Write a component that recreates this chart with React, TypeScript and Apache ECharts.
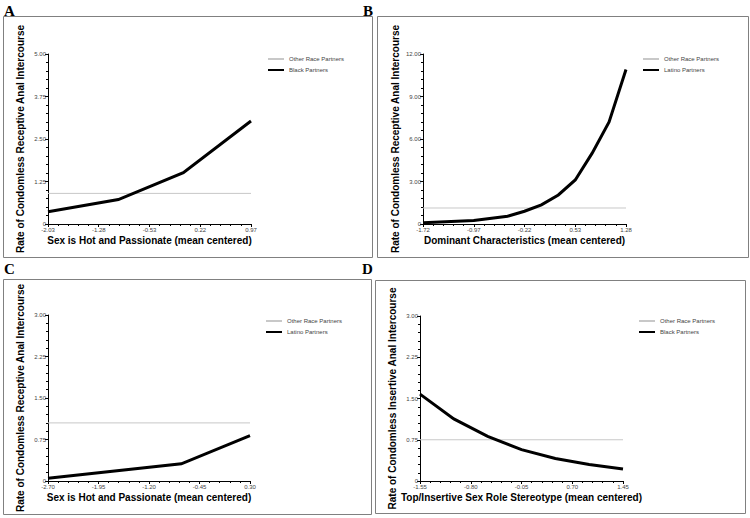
import React, { useEffect, useRef } from "react";
import * as echarts from "echarts";

// Panel A
const aX = [-2.03, -0.99, -0.03, 0.97];
const aBlack = [0.36, 0.72, 1.51, 3.03];
const aOther = 0.9;
const aTicksX = [-2.03, -1.28, -0.53, 0.22, 0.97];
// Panel B
const bX = [-1.72, -0.97, -0.47, -0.22, 0.03, 0.28, 0.53, 0.78, 1.03, 1.28];
const bLatino = [0.09, 0.24, 0.55, 0.9, 1.35, 2.05, 3.11, 5.0, 7.2, 10.9];
const bOther = 1.13;
const bTicksX = [-1.72, -0.97, -0.22, 0.53, 1.28];
// Panel C
const cX = [-2.7, -0.72, 0.3];
const cLatino = [0.05, 0.31, 0.82];
const cOther = 1.05;
const cTicksX = [-2.7, -1.95, -1.2, -0.45, 0.3];
// Panel D
const dX = [-1.55, -1.05, -0.55, -0.05, 0.45, 0.95, 1.45];
const dBlack = [1.58, 1.13, 0.81, 0.57, 0.41, 0.3, 0.22];
const dOther = 0.75;
const dTicksX = [-1.55, -0.8, -0.05, 0.7, 1.45];

const SANS = "'Liberation Sans', Arial, Helvetica, sans-serif";
const SERIF = "'Liberation Serif', 'Times New Roman', serif";

type Panel = {
  key: string;
  grid: { left: number; top: number; width: number; height: number };
  xs: number[];
  ys: number[];
  other: number;
  ticks: number[];
  yMax: number;
  yInterval: number;
  groupName: string;
  xName: string;
  yName: string;
  legend: { left: number; top: number };
};

const panels: Panel[] = [
  {
    key: "A",
    grid: { left: 48, top: 54, width: 203, height: 170 },
    xs: aX, ys: aBlack, other: aOther, ticks: aTicksX,
    yMax: 5, yInterval: 1.25,
    groupName: "Black Partners",
    xName: "Sex is Hot and Passionate (mean centered)",
    yName: "Rate of Condomless Receptive Anal Intercourse",
    legend: { left: 262, top: 50 },
  },
  {
    key: "B",
    grid: { left: 423, top: 54, width: 203, height: 170 },
    xs: bX, ys: bLatino, other: bOther, ticks: bTicksX,
    yMax: 12, yInterval: 3,
    groupName: "Latino Partners",
    xName: "Dominant Characteristics (mean centered)",
    yName: "Rate of Condomless Receptive Anal Intercourse",
    legend: { left: 637, top: 50 },
  },
  {
    key: "C",
    grid: { left: 48, top: 315, width: 202, height: 166 },
    xs: cX, ys: cLatino, other: cOther, ticks: cTicksX,
    yMax: 3, yInterval: 0.75,
    groupName: "Latino Partners",
    xName: "Sex is Hot and Passionate (mean centered)",
    yName: "Rate of Condomless Receptive Anal Intercourse",
    legend: { left: 260, top: 312 },
  },
  {
    key: "D",
    grid: { left: 420, top: 316, width: 203, height: 165 },
    xs: dX, ys: dBlack, other: dOther, ticks: dTicksX,
    yMax: 3, yInterval: 0.75,
    groupName: "Black Partners",
    xName: "Top/Insertive Sex Role Stereotype (mean centered)",
    yName: "Rate of Condomless Insertive Anal Intercourse",
    legend: { left: 633, top: 312 },
  },
];

function buildOption() {
  const grids: any[] = [];
  const xAxes: any[] = [];
  const yAxes: any[] = [];
  const series: any[] = [];
  const legends: any[] = [];
  panels.forEach((p, i) => {
    grids.push({ ...p.grid });
    const ticks = p.ticks;
    xAxes.push({
      type: "value",
      gridIndex: i,
      min: ticks[0],
      max: ticks[ticks.length - 1],
      interval: +(ticks[1] - ticks[0]).toFixed(2),
      splitLine: { show: false },
      axisLine: { onZero: false, lineStyle: { color: "#000", width: 1 } },
      axisTick: { length: 3, lineStyle: { color: "#000" } },
      minorTick: { show: true, splitNumber: 5, length: 2, lineStyle: { color: "#000" } },
      axisLabel: {
        fontSize: 6, color: "#444", fontFamily: SANS, margin: 3,
        formatter: (v: number) => v.toFixed(2),
        showMinLabel: true, showMaxLabel: true, hideOverlap: false,
      },
      name: p.xName,
      nameLocation: "middle",
      nameGap: 11,
      nameTextStyle: { fontSize: 10, fontWeight: "bold", color: "#000", fontFamily: SANS },
    });
    yAxes.push({
      type: "value",
      gridIndex: i,
      min: 0,
      max: p.yMax,
      interval: p.yInterval,
      splitLine: { show: false },
      axisLine: { show: true, onZero: false, lineStyle: { color: "#000", width: 1 } },
      axisTick: { show: true, length: 3, lineStyle: { color: "#000" } },
      minorTick: { show: true, splitNumber: 5, length: 2, lineStyle: { color: "#000" } },
      axisLabel: {
        fontSize: 6, color: "#444", fontFamily: SANS, margin: 2,
        showMinLabel: true, showMaxLabel: true, hideOverlap: false,
        formatter: (v: number) => (v === 0 ? "0" : v.toFixed(2)),
      },
      name: p.yName,
      nameLocation: "middle",
      nameGap: 23,
      nameTextStyle: { fontSize: 10, fontWeight: "bold", color: "#000", fontFamily: SANS },
    });
    const otherName = "Other Race Partners";
    series.push({
      type: "line",
      name: otherName,
      xAxisIndex: i,
      yAxisIndex: i,
      symbol: "none",
      lineStyle: { color: "#c8c8c8", width: 1 },
      itemStyle: { color: "#c8c8c8" },
      data: [
        [ticks[0], p.other],
        [ticks[ticks.length - 1], p.other],
      ],
    });
    series.push({
      type: "line",
      name: p.groupName,
      xAxisIndex: i,
      yAxisIndex: i,
      symbol: "none",
      lineStyle: { color: "#000", width: 3, join: "miter" },
      itemStyle: { color: "#000" },
      data: p.xs.map((x, k) => [x, p.ys[k]]),
    });
    legends.push({
      left: p.legend.left,
      top: p.legend.top,
      orient: "vertical",
      itemWidth: 16,
      itemHeight: 4,
      itemGap: 3,
      selectedMode: false,
      itemStyle: { opacity: 0 },
      data: [{ name: otherName }, { name: p.groupName }],
      textStyle: { fontSize: 6, color: "#444", fontFamily: SANS, lineHeight: 8 },
    });
  });

  const frames = [
    { x: 3, y: 16, w: 369, h: 241 },
    { x: 377, y: 16, w: 371, h: 241 },
    { x: 3, y: 279, w: 368, h: 235 },
    { x: 375, y: 280, w: 370, h: 233 },
  ];
  const labels = [
    { t: "A", x: 4, y: 3 },
    { t: "B", x: 363, y: 3 },
    { t: "C", x: 4, y: 261 },
    { t: "D", x: 362, y: 261 },
  ];
  const graphic: any[] = [
    ...frames.map((f) => ({
      type: "rect",
      shape: { x: f.x + 0.5, y: f.y + 0.5, width: f.w, height: f.h },
      style: { fill: "none", stroke: "#808080", lineWidth: 1 },
      silent: true,
    })),
    ...labels.map((l) => ({
      type: "text",
      x: l.x,
      y: l.y,
      style: { text: l.t, fontSize: 15, fontWeight: "bold", fontFamily: SERIF, fill: "#000" },
      silent: true,
    })),
  ];

  return {
    animation: false,
    backgroundColor: "#fff",
    grid: grids,
    xAxis: xAxes,
    yAxis: yAxes,
    series,
    legend: legends,
    graphic,
  };
}

export default function App() {
  const ref = useRef<HTMLDivElement>(null);
  useEffect(() => {
    if (!ref.current) return;
    const chart = echarts.init(ref.current, undefined, { renderer: "svg" });
    chart.setOption(buildOption() as any);
    return () => chart.dispose();
  }, []);
  return (
    <div
      ref={ref}
      style={{ position: "fixed", left: 0, top: 0, width: 750, height: 518, background: "#fff" }}
    />
  );
}
